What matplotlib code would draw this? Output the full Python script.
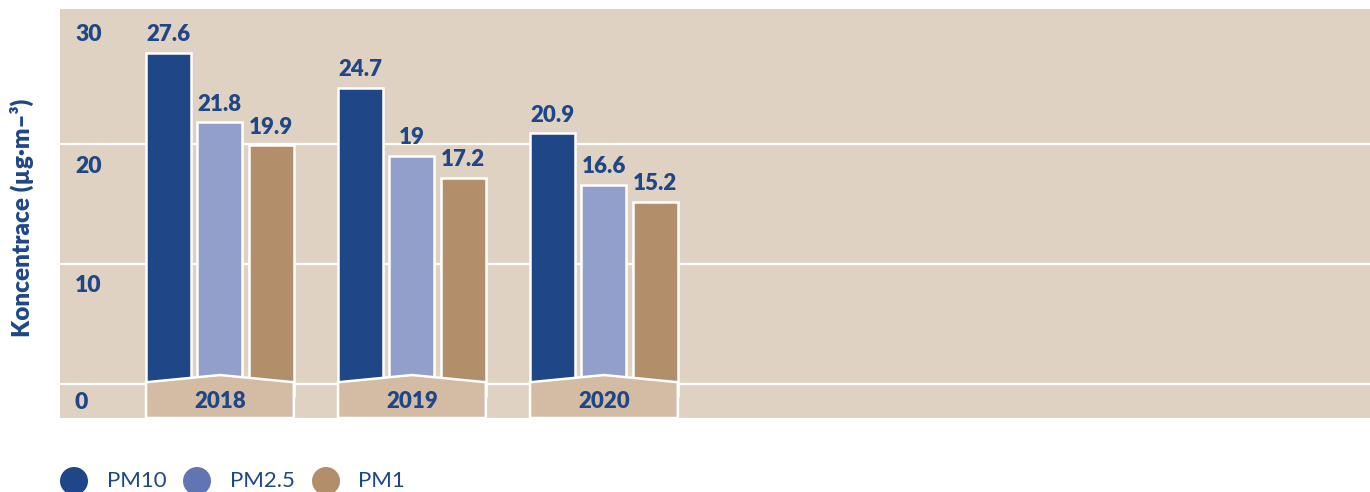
import matplotlib
matplotlib.use("Agg")
import matplotlib.pyplot as plt
from matplotlib.patches import Polygon, Circle
import numpy as np

# ---- data ----
years = ["2018", "2019", "2020"]
series_names = ["PM10", "PM2.5", "PM1"]
pm10 = [27.6, 24.7, 20.9]
pm25 = [21.8, 19.0, 16.6]
pm1 = [19.9, 17.2, 15.2]
tick_values = [0, 10, 20, 30]
tick_labels = ["0", "10", "20", "30"]
ylabel = "Koncentrace (µg·m–³)"

# ---- style ----
plt.rcParams['font.family'] = ['Lato', 'DejaVu Sans']
BLUE = "#1f4788"
bar_colors = ["#1f4788", "#919fca", "#b38e6b"]
legend_colors = ["#1f4788", "#6275b3", "#b38e6b"]
BG = "#e0d2c2"
BOX = "#d3bca3"
WEIGHT = "heavy"

W, H = 1370, 492
fig = plt.figure(figsize=(W / 100, H / 100), dpi=100)
ax = fig.add_axes([60 / W, (H - 418) / H, 1 - 60 / W, (418 - 9) / H])
ax.set_facecolor(BG)
for s in ax.spines.values():
    s.set_visible(False)
ax.set_xticks([])
ax.set_yticks([])

ax.set_xlim(-0.833, 5.99)
ax.set_ylim(-2.83, 31.25)

# gridlines
for v in tick_values[:-1]:
    ax.axhline(v, color="white", lw=1.6, zorder=1)

x = np.arange(len(years))
bw = 0.234
step = 0.268
series = [pm10, pm25, pm1]
for i, (vals, col) in enumerate(zip(series, bar_colors)):
    xs = x + (i - 1) * step
    ax.bar(xs, np.array(vals) + 1.0, bottom=-1.0, width=bw, color=col,
           edgecolor="white", linewidth=1.8, zorder=2)
    for xi, v in zip(xs, vals):
        ax.annotate(f"{v:g}", (xi, v), xytext=(0, 5.5), textcoords="offset points",
                    ha="center", va="bottom", fontsize=16, fontweight=WEIGHT,
                    color=BLUE, zorder=5)

# year boxes
half = step + bw / 2
for xi, yr in zip(x, years):
    poly = Polygon([(xi - half, -2.83), (xi - half, 0.15), (xi, 0.75),
                    (xi + half, 0.15), (xi + half, -2.83)], closed=True,
                   facecolor=BOX, edgecolor="white", linewidth=1.8, zorder=3,
                   clip_on=False)
    ax.add_patch(poly)
    ax.text(xi, -1.45, yr, ha="center", va="center", fontsize=16,
            fontweight=WEIGHT, color=BLUE, zorder=4)

# tick labels placed below gridlines
lab_offsets = [-1.5, -1.75, -1.85, -0.9]
for v, lab, off in zip(tick_values, tick_labels, lab_offsets):
    ax.text(-0.755, v + off, lab, ha="left", va="center", fontsize=16.5,
            fontweight=WEIGHT, color=BLUE, zorder=4)

fig.text(22 / W, 1 - 218 / H, ylabel, rotation=90, ha="center", va="center",
         fontsize=17.5, fontweight=WEIGHT, color=BLUE)

# legend
circ_x = [74, 197, 326]
text_x = [107, 230, 358]
for cx, tx, col, name in zip(circ_x, text_x, legend_colors, series_names):
    fig.add_artist(Circle((cx / 100, (H - 481) / 100), 0.14, transform=fig.dpi_scale_trans,
                          facecolor=col, edgecolor="none"))
    fig.text(tx / W, 1 - 481 / H, name, ha="left", va="center", fontsize=16,
             color=BLUE)

fig.savefig("out.png", dpi=100)
